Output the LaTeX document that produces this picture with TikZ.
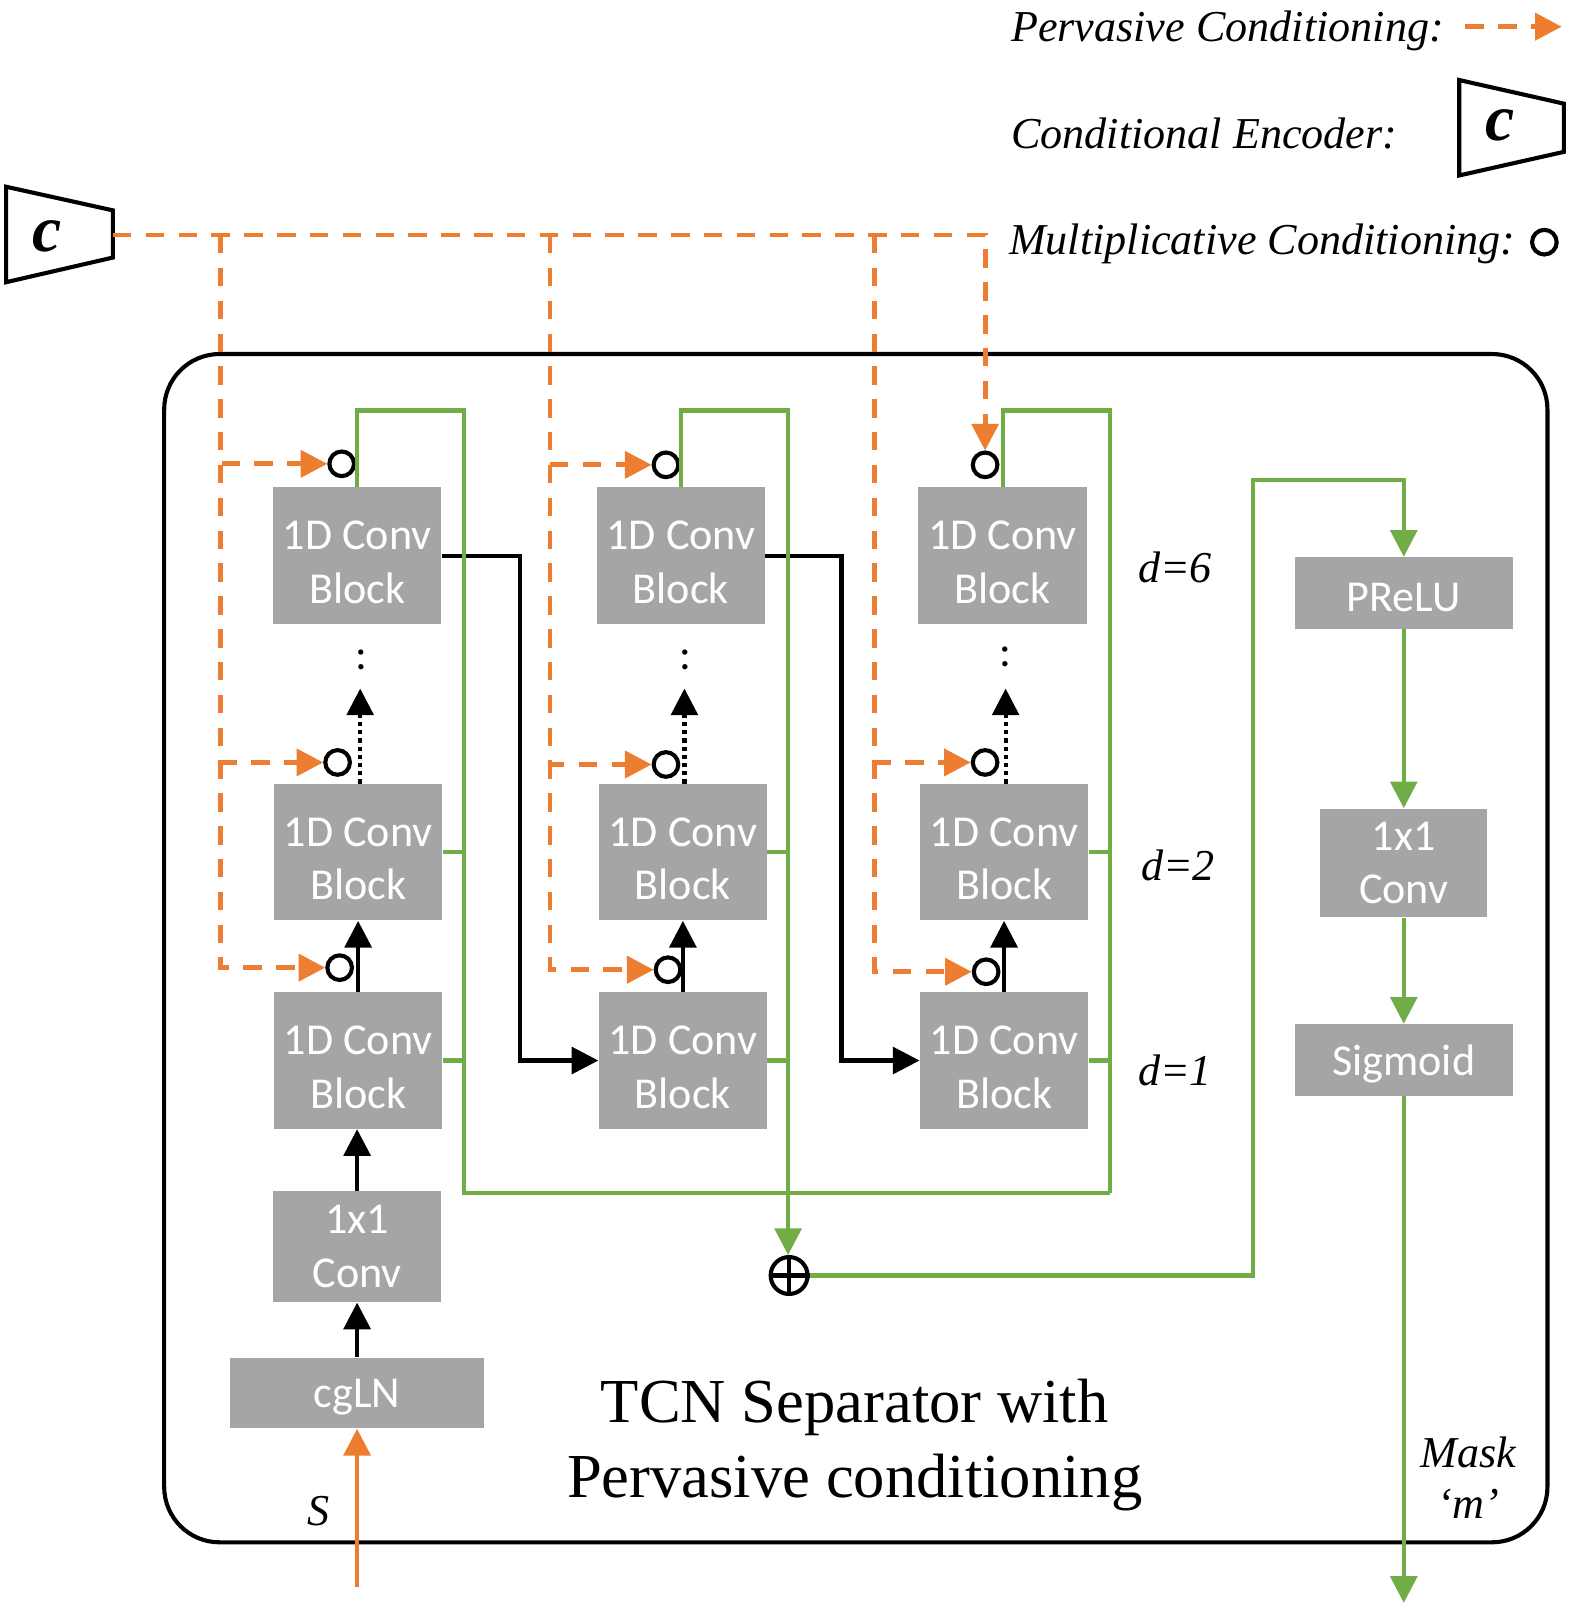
\documentclass[tikz,border=0pt]{standalone}
\usepackage{fontspec}
\setmainfont{Liberation Serif}
\newfontfamily\calibri{Carlito}
\usetikzlibrary{arrows.meta,calc}
\definecolor{boxgray}{HTML}{A5A5A5}
\definecolor{org}{HTML}{ED7D31}
\definecolor{grn}{HTML}{70AD47}
\newcommand\bltwo[3][-5pt]{\raisebox{#1}[\height][\depth]{\begin{tabular}{@{}c@{}}#2\\#3\end{tabular}}}
\newcommand\blone[1]{\raisebox{-2pt}[\height][\depth]{#1}}
\begin{document}
\begin{tikzpicture}[x=0.5pt,y=-0.5pt,
  tip/.style={-{Triangle[length=13pt,width=13pt]}},
  blk/.style={fill=boxgray,text=white,font=\calibri\fontsize{21.5}{26}\selectfont,align=center,inner sep=0pt},
  convblk/.style={blk,minimum width=82pt,minimum height=66.5pt},
  pc/.style={draw=org,line width=2.4pt,dash pattern=on 9pt off 7pt},
  gr/.style={draw=grn,line width=2pt},
  bk/.style={draw=black,line width=2pt},
  dotbk/.style={draw=black,line width=2pt,dash pattern=on 2pt off 2pt},
  mc/.style={circle,draw=black,line width=2pt,minimum size=12pt,inner sep=0pt},
  lbl/.style={font=\fontsize{21.5}{25}\selectfont\itshape,inner sep=0pt},
  encc/.style={font=\fontsize{32}{36}\selectfont\bfseries\itshape,inner sep=0pt},
  encbox/.style={draw=black,line width=2pt,line join=miter}
]
\useasboundingbox (0,0) rectangle (1536,1568);

% outer separator box
\node[draw,line width=2pt,rounded corners=27pt,minimum width=674pt,minimum height=579pt,inner sep=0pt] (sep) at (834,924) {};

% legend
\node[lbl,anchor=base west] (lg1) at (985,40) {Pervasive Conditioning:};
\coordinate (la1) at (1428,26);
\coordinate (la2) at (1522,26);
\draw[pc,tip] (la1) -- (la2);
\node[lbl,anchor=base west] (lg2) at (985,145) {Conditional Encoder:};
\draw[encbox] (1422,78) -- (1524,101) -- (1524,148) -- (1422,171) -- cycle;
\node[encc] (lenc) at (1462,122) {c};
\node[lbl,anchor=base west] (lg3) at (983,248) {Multiplicative Conditioning:};
\node[mc] (lmc) at (1505,236) {};

% conditional encoder
\draw[encbox] (6,182) -- (110,205) -- (110,251) -- (6,275) -- cycle;
\node[encc] (enc) at (46,230) {c};
\coordinate (encout) at (110,229);

% blocks column 1
\node[convblk] (b1t) at (348,541.5) {\bltwo{1D Conv}{Block}};
\node[convblk] (b1m) at (349,830.5) {\bltwo{1D Conv}{Block}};
\node[convblk] (b1b) at (349,1033.5) {\bltwo{1D Conv}{Block}};
\node[blk,minimum width=82pt,minimum height=54pt] (cv1) at (348,1215) {\bltwo[-1.5pt]{1x1}{Conv}};
\node[blk,minimum width=124pt,minimum height=34.5pt] (cg) at (348,1357.5) {\blone{cgLN}};
% column 2
\node[convblk] (b2t) at (663.5,541.5) {\bltwo{1D Conv}{Block}};
\node[convblk] (b2m) at (665.5,830.5) {\bltwo{1D Conv}{Block}};
\node[convblk] (b2b) at (665.5,1033.5) {\bltwo{1D Conv}{Block}};
% column 3
\node[convblk] (b3t) at (977,541.5) {\bltwo{1D Conv}{Block}};
\node[convblk] (b3m) at (978.5,830.5) {\bltwo{1D Conv}{Block}};
\node[convblk] (b3b) at (978.5,1033.5) {\bltwo{1D Conv}{Block}};
% right column
\node[blk,minimum width=106pt,minimum height=35pt] (pr) at (1368,578) {\blone{PReLU}};
\node[blk,minimum width=81.5pt,minimum height=53pt] (cv2) at (1368,841) {\bltwo[-1.5pt]{1x1}{Conv}};
\node[blk,minimum width=106.5pt,minimum height=35pt] (sg) at (1368,1033) {\blone{Sigmoid}};

% vertical dots
\node[blk,fill=none,text=black] (v1) at (352,643) {:};
\node[blk,fill=none,text=black] (v2) at (668,643) {:};
\node[blk,fill=none,text=black] (v3) at (980,640) {:};

% multiplicative circles
\node[mc] (c1a) at (333,452) {};
\node[mc] (c1b) at (329,743) {};
\node[mc] (c1c) at (331,943) {};
\node[mc] (c2a) at (649,453) {};
\node[mc] (c2b) at (649,745) {};
\node[mc] (c2c) at (651,945) {};
\node[mc] (c3a) at (960,453) {};
\node[mc] (c3b) at (960,743) {};
\node[mc] (c3c) at (961,947) {};

% sum
\node[circle,draw,line width=2pt,minimum size=18pt,inner sep=0pt] (sum) at (769,1243) {};
\draw[line width=2pt] (sum.north) -- (sum.south) (sum.west) -- (sum.east);

% labels
\node[lbl] (d6) at (1145,553) {d=6};
\node[lbl] (d2) at (1148,843) {d=2};
\node[lbl] (d1) at (1145,1043) {d=1};
\node[lbl,align=center] (mask) at (1431,1440) {Mask\\‘m’};
\node[lbl] (slbl) at (310,1473) {S};
\node[font=\fontsize{30.5}{36.5}\selectfont,align=center,inner sep=0pt] (title) at (833,1408) {TCN Separator with\\Pervasive conditioning};

% pervasive conditioning (orange dashed)
\coordinate (j1) at (215,229);
\coordinate (j2) at (536,229);
\coordinate (j3) at (852,229);
\draw[pc,tip] (encout) -| (c3a.north);
\draw[pc,tip] (j1) |- (c1a);
\draw[pc,tip] (j1) |- (c1b);
\draw[pc,tip] (j1) |- (c1c);
\draw[pc,tip] (j2) |- (c2a);
\draw[pc,tip] (j2) |- (c2b);
\draw[pc,tip] (j2) |- (c2c);
\draw[pc,tip] (j3) |- (c3b);
\draw[pc,tip] (j3) |- (c3c);

% input S
\coordinate (sin) at (348,1547);
\draw[draw=org,line width=2pt,tip] (sin) -- (cg.south);

% black arrows
\draw[bk,tip] (cg.north) -- (cv1.south);
\draw[bk,tip] (cv1.north) -- (cv1.north |- b1b.south);
\draw[bk,tip] (b1b.north) -- (b1m.south);
\draw[bk,tip] (b2b.north) -- (b2m.south);
\draw[bk,tip] (b3b.north) -- (b3m.south);
\coordinate (dt1) at (351,671);
\coordinate (dt2) at (667,671);
\coordinate (dt3) at (980,671);
\draw[dotbk,tip] (b1m.north -| dt1) -- (dt1);
\draw[dotbk,tip] (b2m.north -| dt2) -- (dt2);
\draw[dotbk,tip] (b3m.north -| dt3) -- (dt3);
\coordinate (k1) at (507,541.5);
\coordinate (k2) at (820,541.5);
\draw[bk,tip] (b1t.east) -- (k1) |- (b2b.west);
\draw[bk,tip] (b2t.east) -- (k2) |- (b3b.west);

% green skip connections
\coordinate (g1) at (452,400);
\coordinate (g2) at (768,400);
\coordinate (g3) at (1082,400);
\coordinate (bus1) at (452,1163);
\coordinate (bus3) at (1082,1163);
\draw[gr] (b1t.north) |- (g1) -- (bus1) -- (bus3);
\draw[gr] (b3t.north) |- (g3) -- (bus3);
\draw[gr,tip] (b2t.north) |- (g2) -- (g2 |- sum.north);
\draw[gr] (b1m.east) -- (b1m.east -| g1);
\draw[gr] (b1b.east) -- (b1b.east -| g1);
\draw[gr] (b2m.east) -- (b2m.east -| g2);
\draw[gr] (b2b.east) -- (b2b.east -| g2);
\draw[gr] (b3m.east) -- (b3m.east -| g3);
\draw[gr] (b3b.east) -- (b3b.east -| g3);

% output path
\coordinate (o1) at (1221,468);
\draw[gr,tip] (sum.east) -| (o1) -| (pr.north);
\draw[gr,tip] (pr.south) -- (cv2.north);
\draw[gr,tip] (cv2.south) -- (sg.north);
\coordinate (mout) at (1368,1562);
\draw[gr,tip] (sg.south) -- (mout);
\end{tikzpicture}
\end{document}
